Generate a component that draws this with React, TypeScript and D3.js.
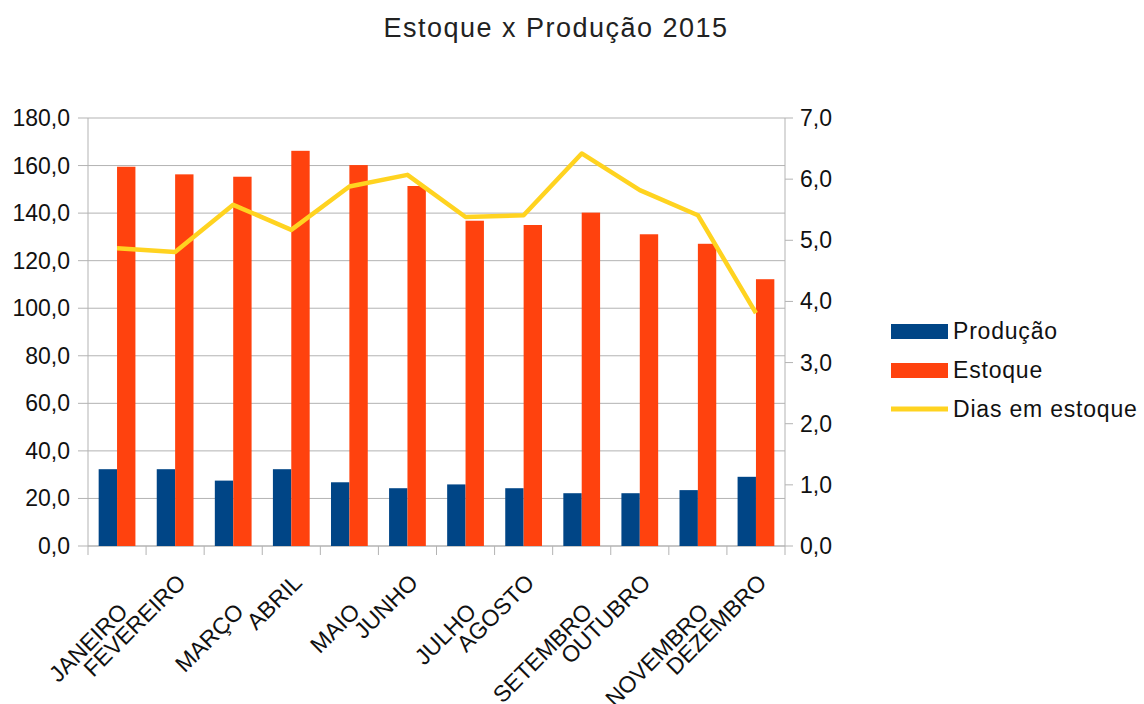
import React from "react";
import * as d3 from "d3";

const months = ["JANEIRO", "FEVEREIRO", "MARÇO", "ABRIL", "MAIO", "JUNHO", "JULHO", "AGOSTO", "SETEMBRO", "OUTUBRO", "NOVEMBRO", "DEZEMBRO"];
const producao = [32.3, 32.3, 27.5, 32.3, 26.8, 24.3, 25.9, 24.3, 22.2, 22.2, 23.5, 29.1];
const estoque = [159.5, 156.3, 155.3, 166.2, 160.2, 151.4, 136.8, 135.0, 140.2, 131.1, 127.1, 112.2];
const dias = [4.87, 4.81, 5.58, 5.17, 5.88, 6.07, 5.38, 5.41, 6.42, 5.82, 5.41, 3.81];
const leftTicks = [0, 20, 40, 60, 80, 100, 120, 140, 160, 180];
const rightTicks = [0, 1, 2, 3, 4, 5, 6, 7];
const seriesNames = ["Produção", "Estoque", "Dias em estoque"];
const colors = ["#004586", "#ff420e", "#ffd320"];

const W = 1144, H = 704;
const plot = { left: 88, right: 785, top: 118, bottom: 546 };
const fmt = (v: number) => v.toFixed(1).replace(".", ",");
const FONT = "'Liberation Sans', Arial, sans-serif";

export default function App() {
  const x0 = d3.scaleBand<string>().domain(months).range([plot.left, plot.right]).padding(0);
  const x1 = d3.scaleBand<string>().domain(["p", "e"]).range([0, x0.bandwidth()]).paddingInner(0).paddingOuter(0.58);
  const yL = d3.scaleLinear().domain([0, 180]).range([plot.bottom, plot.top]);
  const yR = d3.scaleLinear().domain([0, 7]).range([plot.bottom, plot.top]);
  const line = d3.line<number>()
    .x((_, i) => (x0(months[i]) as number) + x0.bandwidth() / 2)
    .y((d) => yR(d));
  const grid = "#b3b3b3";

  return (
    <svg width={W} height={H} style={{ position: "absolute", left: 0, top: 0, background: "#fff" }} fontFamily={FONT}>
      <rect x={0} y={0} width={W} height={H} fill="#fff" />
      <text x={556} y={37} textAnchor="middle" fontSize={27} letterSpacing={1.5} fill="#222">Estoque x Produção 2015</text>

      {leftTicks.map((t) => (
        <g key={"g" + t}>
          <line x1={plot.left} x2={plot.right} y1={yL(t)} y2={yL(t)} stroke={grid} strokeWidth={1} />
          <line x1={plot.left - 10} x2={plot.left} y1={yL(t)} y2={yL(t)} stroke={grid} strokeWidth={1} />
          <text x={70} y={yL(t)} dy="0.35em" textAnchor="end" fontSize={23} fill="#111">{fmt(t)}</text>
        </g>
      ))}
      {rightTicks.map((t) => (
        <g key={"r" + t}>
          <line x1={plot.right} x2={plot.right + 8} y1={yR(t)} y2={yR(t)} stroke={grid} strokeWidth={1} />
          <text x={800} y={yR(t)} dy="0.35em" textAnchor="start" fontSize={23} fill="#111">{fmt(t)}</text>
        </g>
      ))}
      <line x1={plot.left} x2={plot.left} y1={plot.top} y2={plot.bottom} stroke={grid} />
      <line x1={plot.right} x2={plot.right} y1={plot.top} y2={plot.bottom} stroke={grid} />
      <line x1={plot.left} x2={plot.right} y1={plot.bottom} y2={plot.bottom} stroke={grid} />
      {d3.range(months.length + 1).map((i) => {
        const xx = plot.left + i * x0.step();
        return <line key={"ct" + i} x1={xx} x2={xx} y1={plot.bottom} y2={plot.bottom + 9} stroke={grid} />;
      })}

      {months.map((m, i) => (
        <g key={m}>
          <rect x={(x0(m) as number) + (x1("p") as number)} y={yL(producao[i])} width={x1.bandwidth()} height={plot.bottom - yL(producao[i])} fill={colors[0]} />
          <rect x={(x0(m) as number) + (x1("e") as number)} y={yL(estoque[i])} width={x1.bandwidth()} height={plot.bottom - yL(estoque[i])} fill={colors[1]} />
        </g>
      ))}
      <path d={line(dias) as string} fill="none" stroke={colors[2]} strokeWidth={4.5} strokeLinejoin="round" />

      {months.map((m, i) => {
        const ax = (x0(m) as number) + x0.bandwidth() / 2 + 12;
        const ay = i % 2 === 0 ? 613 : 584;
        return (
          <text key={"xl" + m} x={ax} y={ay} textAnchor="end" fontSize={23} fill="#111" transform={`rotate(-45 ${ax} ${ay})`}>{m}</text>
        );
      })}

      {seriesNames.map((s, i) => {
        const by = 339 + i * 39;
        return (
          <g key={s}>
            {i < 2 ? (
              <rect x={891} y={by - 15} width={57} height={15} fill={colors[i]} />
            ) : (
              <line x1={891} x2={948} y1={by - 8} y2={by - 8} stroke={colors[2]} strokeWidth={5} />
            )}
            <text x={953} y={by} fontSize={23} letterSpacing={0.8} fill="#111">{s}</text>
          </g>
        );
      })}
    </svg>
  );
}
